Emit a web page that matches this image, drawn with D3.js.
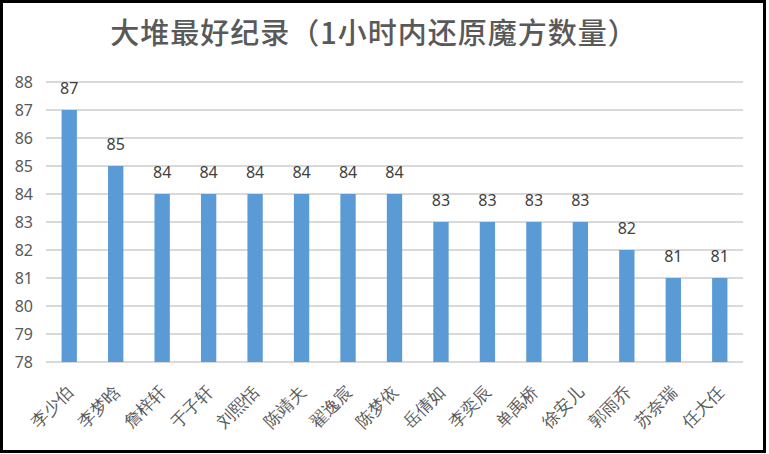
<!DOCTYPE html>
<html>
<head>
<meta charset="utf-8">
<script src="https://cdn.jsdelivr.net/npm/d3@7"></script>
<style>
  body { margin: 0; background: #fff; }
  svg { display: block; font-family: "Noto Sans CJK SC", "Noto Sans", sans-serif; }
</style>
</head>
<body>
<svg id="chart" width="769" height="454"></svg>
<script>
// data
var names = ["李少伯", "李梦晗", "詹梓轩", "于子轩", "刘熙恬", "陈靖夫", "翟逸宸", "陈梦依",
             "岳倩如", "李奕辰", "单禹桥", "徐安儿", "郭雨乔", "苏奈瑞", "任大任"];
var scores = [87, 85, 84, 84, 84, 84, 84, 84, 83, 83, 83, 83, 82, 81, 81];
var yTicks = [78, 79, 80, 81, 82, 83, 84, 85, 86, 87, 88];
var title = "大堆最好纪录（1小时内还原魔方数量）";

var svg = d3.select('#chart');
var plotLeft = 46, plotRight = 743, plotTop = 82, plotBottom = 362;

svg.append('rect')
    .attr('x', 1.5).attr('y', 1.5).attr('width', 763).attr('height', 450)
    .attr('fill', 'white').attr('stroke', 'black').attr('stroke-width', 3);

var x = d3.scaleBand().domain(names).range([plotLeft, plotRight]).paddingInner(0.67).paddingOuter(0.335);
var y = d3.scaleLinear().domain([78, 88]).range([plotBottom, plotTop]);

// gridlines
svg.append('g').selectAll('line').data(yTicks).enter().append('line')
    .attr('x1', plotLeft).attr('x2', plotRight)
    .attr('y1', function (d) { return y(d); }).attr('y2', function (d) { return y(d); })
    .attr('stroke', '#d9d9d9').attr('stroke-width', 2);

// y axis labels
var yAxis = d3.axisLeft(y).tickValues(yTicks).tickSize(0).tickPadding(0);
var gy = svg.append('g').attr('transform', 'translate(33,0)').call(yAxis);
gy.select('.domain').remove();
gy.selectAll('text').attr('fill', '#595959').style('font-size', '16px')
    .style('font-family', '"Noto Sans", sans-serif');

// bars
svg.append('g').selectAll('rect').data(scores).enter().append('rect')
    .attr('x', function (d, i) { return x(names[i]); })
    .attr('y', function (d) { return y(d); })
    .attr('width', x.bandwidth())
    .attr('height', function (d) { return plotBottom - y(d); })
    .attr('fill', '#5b9bd5');

// value labels
svg.append('g').selectAll('text').data(scores).enter().append('text')
    .attr('x', function (d, i) { return x(names[i]) + x.bandwidth() / 2; })
    .attr('y', function (d) { return y(d) - 16; })
    .attr('text-anchor', 'middle')
    .attr('fill', '#404040').style('font-size', '16px')
    .style('font-family', '"Noto Sans", sans-serif')
    .text(function (d) { return d; });

// x labels, rotated
var xAxis = d3.axisBottom(x).tickSize(0).tickPadding(0);
var gx = svg.append('g').attr('transform', 'translate(0,' + plotBottom + ')').call(xAxis);
gx.select('.domain').remove();
gx.selectAll('text')
    .attr('fill', '#595959').style('font-size', '17px').style('font-weight', '300')
    .attr('text-anchor', 'end')
    .attr('dy', 0)
    .attr('transform', 'translate(5,31) rotate(-45)');

// title
svg.append('text')
    .attr('x', 374).attr('y', 44)
    .attr('text-anchor', 'middle')
    .attr('fill', '#595959').style('font-size', '29px').style('font-weight', '500')
    .style('letter-spacing', '1px')
    .text(title);
</script>
</body>
</html>
